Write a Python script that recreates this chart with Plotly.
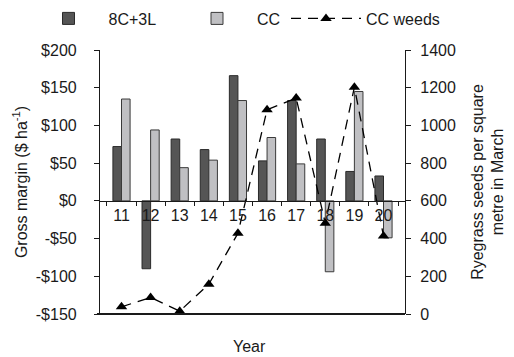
import plotly.graph_objects as go

years = ["11", "12", "13", "14", "15", "16", "17", "18", "19", "20"]
gm_8c3l = [72, -90, 82, 68, 166, 53, 133, 82, 39, 33]
gm_cc = [135, 94, 44, 54, 133, 84, 49, -94, 145, -49]
cc_weeds = [38, 88, 15, 158, 428, 1083, 1145, 481, 1203, 414]

left_ticks = [-150, -100, -50, 0, 50, 100, 150, 200]
left_labels = ["-$150", "-$100", "-$50", "$0", "$50", "$100", "$150", "$200"]
right_ticks = [0, 200, 400, 600, 800, 1000, 1200, 1400]

FONT = "Liberation Sans, Arial, sans-serif"
INK = "#1a1a1a"
FS = 16
# the page body adds an 8px offset, so the figure is sized to fit the window
W, H, OFF = 506, 349, 8

fig = go.Figure()
fig.add_trace(go.Bar(x=years, y=gm_8c3l, name="8C+3L", legend="legend",
                     marker=dict(color="#555555", line=dict(color="#2a2a2a", width=1))))
fig.add_trace(go.Bar(x=years, y=gm_cc, name="CC", legend="legend2",
                     marker=dict(color="#c0c0c3", line=dict(color="#3a3a3a", width=1))))
fig.add_trace(go.Scatter(x=years, y=cc_weeds, name="CC weeds", yaxis="y2", legend="legend3",
                         mode="lines+markers",
                         line=dict(color="black", width=1.3, dash="10px,7px"),
                         marker=dict(symbol="triangle-up", size=10, color="black")))

def leg(xpx):
    return dict(orientation="h", xref="container", yref="container",
                x=(xpx - OFF) / W, y=1 - (18.5 - OFF) / H, xanchor="left", yanchor="middle",
                font=dict(size=FS, color=INK), itemwidth=70,
                bgcolor="rgba(0,0,0,0)", borderwidth=0)

fig.update_layout(
    width=W, height=H,
    margin=dict(l=92, r=109, t=41.5, b=42.5, autoexpand=False),
    paper_bgcolor="white", plot_bgcolor="white",
    font=dict(family=FONT, size=FS, color=INK),
    barmode="group", bargap=0.41, bargroupgap=0,
    showlegend=True,
    legend=leg(28.5), legend2=leg(177), legend3=leg(286),
    xaxis=dict(type="category", anchor="free", position=150 / 350, automargin=False,
               showline=True, linecolor=INK, linewidth=1.2,
               ticks="outside", ticklen=4, tickcolor=INK, tickson="boundaries",
               showgrid=False, tickfont=dict(size=FS), zeroline=False),
    yaxis=dict(range=[-150, 200], tickvals=left_ticks, ticktext=left_labels, automargin=False,
               showline=True, linecolor=INK, linewidth=1.2,
               ticks="outside", ticklen=5, tickcolor=INK, ticklabelstandoff=14,
               showgrid=False, zeroline=False, tickfont=dict(size=FS),
               title=dict(text="Gross margin ($ ha<sup>-1</sup>)", font=dict(size=FS), standoff=4)),
    yaxis2=dict(range=[0, 1400], tickvals=right_ticks, overlaying="y", side="right",
                automargin=False,
                showline=True, linecolor=INK, linewidth=1.2,
                ticks="outside", ticklen=5, tickcolor=INK, ticklabelstandoff=6,
                showgrid=False, zeroline=False, tickfont=dict(size=FS),
                title=dict(text="Ryegrass seeds per square<br>metre in March",
                           font=dict(size=FS), standoff=16)),
    shapes=[dict(type="line", xref="paper", yref="paper", x0=-0.01, x1=1.0, y0=0, y1=0,
                 line=dict(color=INK, width=2))],
    annotations=[dict(text="Year", xref="paper", yref="paper", x=0.49, y=-0.123,
                      showarrow=False, font=dict(size=FS), xanchor="center", yanchor="middle")],
)

fig.write_html("out.html")
